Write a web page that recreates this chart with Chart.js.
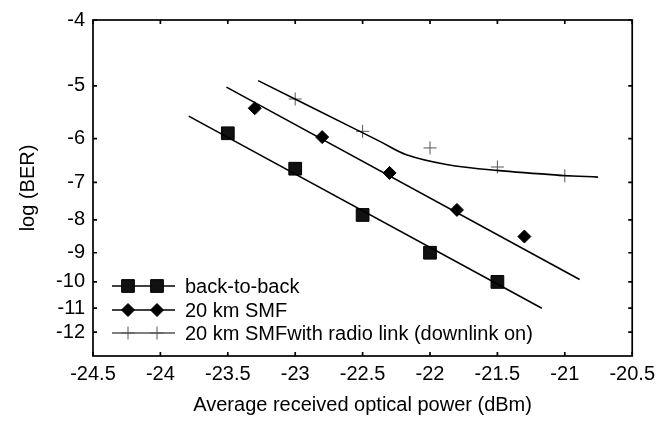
<!DOCTYPE html>
<html><head><meta charset="utf-8">
<script src="https://cdn.jsdelivr.net/npm/chart.js@4.4.1/dist/chart.umd.min.js"></script>
<style>html,body{margin:0;padding:0;background:#fff;overflow:hidden;}</style>
</head><body>
<canvas id="c" width="661" height="421" style="width:661px;height:421px;display:block"></canvas>
<script>
// ---- data (x: received optical power in dBm, y: log10(BER)) ----
const xB2B = [-23.5, -23.0, -22.5, -22.0, -21.5];
const yB2B = [-5.89, -6.67, -7.86, -9.00, -10.00];
const xSMF = [-23.3, -22.8, -22.3, -21.8, -21.3];
const ySMF = [-5.40, -5.97, -6.77, -7.72, -8.49];
const xRadio = [-23.0, -22.5, -22.0, -21.5, -21.0];
const yRadio = [-5.23, -5.85, -6.20, -6.63, -6.84];
// fitted curves
const xFitB2B = [-23.79, -21.17];
const yFitB2B = [-5.55, -11.00];
const xFitSMF = [-23.51, -20.89];
const yFitSMF = [-5.02, -9.91];
const xFitRadio = [-23.275, -22.595, -22.372, -22.175, -21.878, -21.507, -21.014, -20.754];
const yFitRadio = [-4.91, -5.75, -6.06, -6.35, -6.57, -6.71, -6.83, -6.87];
// tick labels
const xTicks = [-24.5, -24, -23.5, -23, -22.5, -22, -21.5, -21, -20.5];
const yTicks = [-4, -5, -6, -7, -8, -9, -10, -11, -12];
const legendLabels = ['back-to-back', '20 km SMF', '20 km SMFwith radio link (downlink on)'];

const FONT = "'Liberation Sans', Arial, Helvetica, sans-serif";
// BER axis: position proportional to log10(-log10(BER) - 0.5)
const toAxis = v => -v - 0.5;
const fromAxis = a => -(a + 0.5);
const pts = (xs, ys) => xs.map((x, i) => ({x: x, y: toAxis(ys[i])}));

const markers = [
  {style: 'rect', radius: 9, fill: '#111', stroke: '#000', bw: 1},
  {style: 'rectRot', radius: 6.5, fill: '#000', stroke: '#000', bw: 1},
  {style: 'cross', radius: 6.5, fill: '#555', stroke: '#555', bw: 1}
];

function drawMarker(ctx, m, x, y) {
  ctx.save();
  ctx.fillStyle = m.fill; ctx.strokeStyle = m.stroke; ctx.lineWidth = m.bw;
  ctx.beginPath();
  if (m.style === 'rect') {
    const s = m.radius * Math.SQRT1_2;
    ctx.rect(x - s, y - s, 2 * s, 2 * s); ctx.fill(); ctx.stroke();
  } else if (m.style === 'rectRot') {
    const r = m.radius;
    ctx.moveTo(x - r, y); ctx.lineTo(x, y - r); ctx.lineTo(x + r, y); ctx.lineTo(x, y + r);
    ctx.closePath(); ctx.fill(); ctx.stroke();
  } else {
    const r = m.radius;
    ctx.moveTo(x - r, y); ctx.lineTo(x + r, y); ctx.moveTo(x, y - r); ctx.lineTo(x, y + r);
    ctx.stroke();
  }
  ctx.restore();
}

const framePlugin = {
  id: 'frame',
  afterDraw(chart) {
    const {ctx, chartArea: a, scales: {x, y}} = chart;
    ctx.save();
    ctx.strokeStyle = '#000';
    ctx.lineWidth = 1.7;
    ctx.strokeRect(a.left, a.top, a.right - a.left, a.bottom - a.top);
    const L = 4;
    ctx.beginPath();
    x.ticks.forEach(t => {
      const px = x.getPixelForValue(t.value);
      ctx.moveTo(px, a.bottom); ctx.lineTo(px, a.bottom - L);
      ctx.moveTo(px, a.top); ctx.lineTo(px, a.top + L);
    });
    y.ticks.forEach(t => {
      const py = y.getPixelForValue(t.value);
      ctx.moveTo(a.left, py); ctx.lineTo(a.left + L, py);
      ctx.moveTo(a.right, py); ctx.lineTo(a.right - L, py);
    });
    ctx.stroke();
    // legend inside plot (lower left)
    const rowY = [a.top + 266, a.top + 290, a.top + 313];
    const x0 = a.left + 19, x1 = a.left + 82, mx = [a.left + 35, a.left + 64], tx = a.left + 92;
    ctx.font = '20px ' + FONT;
    ctx.fillStyle = '#000';
    ctx.textBaseline = 'middle';
    ctx.textAlign = 'left';
    legendLabels.forEach((lab, i) => {
      ctx.beginPath();
      ctx.strokeStyle = '#000';
      ctx.lineWidth = i === 2 ? 1.2 : 1.5;
      ctx.moveTo(x0, rowY[i]); ctx.lineTo(x1, rowY[i]); ctx.stroke();
      mx.forEach(xx => drawMarker(ctx, markers[i], xx, rowY[i]));
      ctx.fillStyle = '#000';
      ctx.fillText(lab, tx, rowY[i] + 1);
    });
    ctx.restore();
  }
};

const scatterDs = (xs, ys, m) => ({
  data: pts(xs, ys), showLine: false,
  pointStyle: m.style, pointRadius: m.radius, pointHoverRadius: m.radius,
  pointBackgroundColor: m.fill, pointBorderColor: m.stroke, pointBorderWidth: m.bw
});
const lineDs = (xs, ys, w, tension) => ({
  data: pts(xs, ys), showLine: true, pointRadius: 0, borderColor: '#000', borderWidth: w,
  fill: false, cubicInterpolationMode: 'default', tension: tension
});

new Chart(document.getElementById('c'), {
  type: 'scatter',
  data: {
    datasets: [
      lineDs(xFitB2B, yFitB2B, 1.6, 0),
      lineDs(xFitSMF, yFitSMF, 1.6, 0),
      lineDs(xFitRadio, yFitRadio, 1.6, 0.35),
      scatterDs(xB2B, yB2B, markers[0]),
      scatterDs(xSMF, ySMF, markers[1]),
      scatterDs(xRadio, yRadio, markers[2])
    ]
  },
  options: {
    responsive: false,
    animation: false,
    devicePixelRatio: 1,
    layout: {padding: {top: 18, right: 28, left: 0, bottom: 0}},
    plugins: {legend: {display: false}, tooltip: {enabled: false}},
    scales: {
      x: {
        type: 'linear', min: -24.5, max: -20.5,
        afterBuildTicks: s => { s.ticks = xTicks.map(v => ({value: v})); },
        afterFit: s => { s.height = 65; },
        grid: {display: false, drawTicks: false},
        border: {display: false},
        ticks: {font: {family: FONT, size: 20}, color: '#000', padding: 6, maxRotation: 0, autoSkip: false,
                callback: v => String(v)},
        title: {display: true, text: 'Average received optical power (dBm)', color: '#000',
                font: {family: FONT, size: 20}, padding: {top: 0, bottom: 4}}
      },
      y: {
        type: 'logarithmic', reverse: true, min: toAxis(-4), max: toAxis(-13.1),
        afterBuildTicks: s => { s.ticks = yTicks.map(v => ({value: toAxis(v)})); },
        afterFit: s => { s.width = 93; },
        grid: {display: false, drawTicks: false},
        border: {display: false},
        ticks: {font: {family: FONT, size: 20}, color: '#000', padding: 8, autoSkip: false,
                callback: v => String(Math.round(fromAxis(v)))},
        title: {display: true, text: 'log (BER)', color: '#000',
                font: {family: FONT, size: 20}, padding: {top: 16, bottom: 0}}
      }
    }
  },
  plugins: [framePlugin]
});
</script>
</body></html>
